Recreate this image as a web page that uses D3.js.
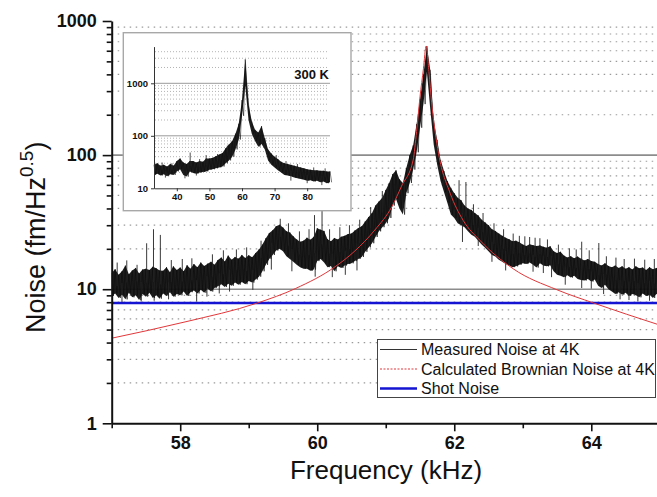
<!DOCTYPE html>
<html>
<head>
<meta charset="utf-8">
<script src="https://cdn.jsdelivr.net/npm/d3@7"></script>
<style>
  body { margin: 0; background: #fff; }
  svg { display: block; font-family: Arial, "Liberation Sans", sans-serif; }
</style>
</head>
<body>
<div id="chart"></div>
<script>
// ---- data ----
// measured noise at 4K: upper / lower edge of the trace, one pair every 0.05 kHz from 57 kHz
const noiseStart = 57;
const noiseStep = 0.05;
const noiseHi = [
  13.2, 14.1, 12.8, 13.6, 15.0, 12.9, 13.8, 14.4, 13.1, 14.0,
  14.2, 13.9, 14.7, 14.3, 13.8, 13.7, 14.6, 13.4, 14.8, 13.9,
  14.5, 13.6, 15.1, 14.2, 15.4, 14.6, 15.8, 14.9, 15.5, 16.0,
  15.2, 16.5, 17.2, 16.1, 17.8, 16.6, 17.4, 16.9, 18.0, 17.1,
  17.9, 17.3, 18.6, 19.8, 21.5, 24.0, 26.2, 27.5, 29.5, 30.2,
  28.8, 27.0, 26.5, 24.8, 23.5, 22.6, 23.0, 24.2, 23.4, 24.6,
  28.5, 27.8, 27.2, 23.6, 22.8, 24.1, 23.5, 24.6, 25.0, 25.8,
  26.0, 27.4, 28.6, 29.5, 32.0, 34.5, 37.0, 42.0, 45.0, 48.0,
  55, 62, 72, 77, 66, 62, 80, 100, 118, 170,
  260, 400, 651, 430, 180, 130, 92, 76, 64, 57,
  52, 48, 46, 42, 40, 39, 37, 35.5, 33, 31.5,
  30, 28, 27.2, 26, 25, 24.2, 23.6, 22.8, 23.0, 22.4,
  21.5, 21.0, 21.6, 21.3, 21.0, 21.2, 20.7, 20.4, 20.9, 19.2,
  18.6, 19.0, 17.8, 17.2, 17.6, 17.0, 17.5, 16.9, 16.4, 16.8,
  16.2, 16.0, 15.4, 15.0, 15.6, 14.9, 14.6, 15.0, 14.4, 14.8,
  14.2, 14.6, 14.0, 14.8, 14.3, 14.5, 13.9, 14.6, 14.1, 14.4,
  14.0
];
const noiseLo = [
  8.9, 9.3, 8.6, 9.1, 8.4, 9.4, 8.7, 9.0, 8.3, 9.2,
  8.8, 9.4, 8.6, 9.0, 8.5, 9.3, 8.9, 9.5, 8.8, 9.2,
  9.0, 9.6, 8.9, 9.5, 9.8, 9.3, 9.9, 9.4, 10.1, 9.6,
  10.2, 10.5, 10.9, 10.4, 11.0, 10.6, 11.2, 10.8, 11.3, 10.9,
  11.5, 11.2, 11.8, 12.4, 13.6, 15.2, 16.8, 18.0, 19.4, 20.0,
  19.2, 17.6, 16.8, 16.0, 15.2, 14.6, 14.2, 14.2, 13.7, 14.0,
  16.2, 16.8, 15.8, 14.6, 14.9, 13.6, 14.8, 14.4, 15.0, 15.4,
  15.6, 16.2, 16.8, 17.4, 19.0, 20.5, 22.0, 24.5, 27.0, 29.0,
  31, 34, 42, 47, 40, 36, 52, 62, 78, 105,
  160, 240, 420, 220, 120, 85, 64, 53, 44, 36,
  34, 31, 30, 29, 27, 25.5, 24.6, 23, 21.5, 20.4,
  19.2, 18, 17.5, 16.6, 16, 15.4, 15, 14.6, 14.8, 15.2,
  15.6, 15.4, 15.8, 15.2, 14.5, 15.6, 15.0, 14.8, 15.1, 13.6,
  12.8, 12.6, 12.3, 12.7, 12.2, 12.6, 11.9, 11.7, 11.6, 11.9,
  11.4, 11.8, 10.6, 10.2, 10.8, 10.0, 9.6, 9.2, 9.5, 9.1,
  9.4, 8.9, 9.2, 9.0, 8.7, 9.3, 8.9, 9.1, 8.6, 9.2,
  9.0
];
// isolated spikes and hairs sticking out of the 4K trace
const spikeUpFreq = [57.51, 57.61, 57.71, 59.96, 60.07, 62.07, 62.17, 62.95, 63.10, 63.25, 63.86, 64.11,
  57.08, 57.22, 57.37, 57.87, 58.03, 58.17, 58.47, 58.63, 58.82, 58.97, 59.18, 59.46, 59.58, 59.74,
  59.88, 60.18, 60.33, 60.47, 60.62, 60.78, 60.95, 62.28, 62.42, 62.58, 62.72, 62.86, 63.03, 63.18,
  63.36, 63.52, 63.68, 63.78, 63.97, 64.22, 64.36, 64.48, 64.63, 64.78, 64.92];
const spikeUpVal = [22, 28, 25.4, 35.7, 40, 65, 63, 25, 24.5, 24, 22.6, 22.1,
  15.8, 16.4, 15.2, 16.5, 16.8, 17.0, 18.2, 19.5, 19.8, 20.5, 23, 33.5, 31, 27,
  28, 28, 29, 30, 33, 41, 54, 43, 37, 31, 28, 26, 24.8, 24.2,
  23.5, 21.5, 20.2, 19.8, 19.5, 17.6, 17.2, 16.8, 16.9, 16.6, 16.8];
const spikeDownFreq = [57.62, 58.24, 58.39, 59.06, 59.97, 62.12, 63.86,
  57.15, 57.43, 57.83, 58.57, 58.72, 59.33, 59.63, 60.22, 60.41, 60.58, 62.35, 62.55, 62.75,
  63.15, 63.30, 63.42, 63.62, 64.00, 64.18, 64.42, 64.55, 64.68, 64.85];
const spikeDownVal = [8.2, 8.1, 8.8, 9.9, 12.4, 22.5, 10.2,
  8.0, 8.1, 8.4, 9.3, 9.6, 14, 13.6, 12.3, 12.8, 13.8, 21, 16, 13.8,
  13.5, 13.2, 12.3, 10.8, 10.1, 9.2, 8.4, 8.3, 8.1, 8.2];

// calculated Brownian noise at 4K
const brownFreq = [57.0, 58.07, 59.13, 59.68, 60.26, 60.55, 60.84, 61.09, 61.23, 61.40, 61.45, 61.50,
  61.55, 61.59, 61.63, 61.67, 61.72, 61.77, 61.94, 62.13, 62.38, 62.86, 63.5, 64.03, 65.0];
const brownVal = [4.31, 5.7, 7.9, 10.1, 14.7, 19.3, 27.6, 41.3, 58.6, 92, 150, 272,
  440, 651, 420, 245, 150, 103, 52, 32.6, 23, 14.2, 9.9, 7.9, 5.4];

// shot noise level
const shotNoise = 7.9;

// inset, 300 K: upper / lower edge of the trace, one pair every 1 kHz from 33 kHz
const insetStart = 33;
const insetStep = 1;
const insetHi = [28, 30, 27, 28, 26, 29, 27, 33, 37, 31,
  29, 33, 33, 31, 33, 32, 37, 37, 38, 41,
  44, 47, 58, 68, 80, 110, 170, 480, 2860, 400,
  190, 130, 115, 153, 90, 55, 46, 40, 36, 32,
  30, 29, 28, 27, 26, 25, 24, 23, 22.5, 22,
  22, 21.5, 21.5, 21, 21];
const insetLo = [18, 19, 17.5, 18.5, 17, 18.5, 18, 21, 23, 18,
  16.7, 21, 19.5, 19, 20, 20.5, 21, 22.5, 23, 24,
  25, 26, 30, 34, 40, 55, 85, 240, 900, 200,
  110, 80, 62, 70, 55, 34, 28, 25, 22, 20,
  18, 17.5, 17, 16, 15.5, 15, 14.5, 14, 14.2, 13.5,
  14, 13, 13.5, 12.5, 13];
const insetSpikeUpFreq = [44.1, 49, 35.5, 38.5, 47, 52.5, 55.5, 70.5, 73.5, 77, 82, 85.5];
const insetSpikeUpVal = [48, 43, 31, 30, 36, 45, 65, 43, 33, 29, 25, 24];
const insetSpikeDownFreq = [36.5, 42.5, 46, 75, 80, 84.5];
const insetSpikeDownVal = [16, 15.5, 17.5, 14, 12.5, 11.5];

const xTicks = [58, 60, 62, 64];
const xMinorTicks = [57, 59, 61, 63, 65];
const yTicks = [1, 10, 100, 1000];
const insetXTicks = [40, 50, 60, 70, 80];
const insetYTicks = [10, 100, 1000];
const legendLabels = ["Measured Noise at 4K", "Calculated Brownian Noise at 4K", "Shot Noise"];

// ---- drawing ----
const width = 657, height = 497;
const plot = { left: 111.7, right: 659.8, top: 21, bottom: 423.3 };

const svg = d3.select("#chart").append("svg")
  .attr("width", width)
  .attr("height", height);

svg.append("defs").append("clipPath").attr("id", "plotClip")
  .append("rect")
    .attr("x", plot.left).attr("y", 0)
    .attr("width", width - plot.left).attr("height", plot.bottom);

const x = d3.scaleLinear().domain([57, 65]).range([plot.left, plot.right]);
const y = d3.scaleLog().domain([1, 1000]).range([plot.bottom, plot.top]);

// minor values for log grids
const decadeMinors = (lo, hi) => {
  const out = [];
  for (let d = lo; d < hi; d *= 10) for (let k = 2; k <= 9; k++) out.push(d * k);
  return out;
};

// grid
const grid = svg.append("g");
grid.selectAll(".minor")
  .data(decadeMinors(1, 1000))
  .join("line")
    .attr("x1", plot.left).attr("x2", width)
    .attr("y1", d => y(d)).attr("y2", d => y(d))
    .attr("stroke", "#9a9a9a")
    .attr("stroke-width", 1.2)
    .attr("stroke-dasharray", "1.5,4.5");
grid.selectAll(".major")
  .data([10, 100])
  .join("line")
    .attr("x1", plot.left).attr("x2", width)
    .attr("y1", d => y(d)).attr("y2", d => y(d))
    .attr("stroke", "#8c8c8c")
    .attr("stroke-width", 1.6);

const chart = svg.append("g").attr("clip-path", "url(#plotClip)");

// a dense noisy trace: filled band between the edges + zigzag through them + spikes
const drawTrace = (g, start, step, hi, lo, upF, upV, downF, downV, xs, ys, sw) => {
  const fOf = i => start + i * step;
  g.append("path")
    .datum(hi.map((h, i) => [fOf(i), h, lo[i]]))
    .attr("d", d3.area().x(d => xs(d[0])).y0(d => ys(d[2])).y1(d => ys(d[1])))
    .attr("fill", "#111")
    .attr("fill-opacity", 0.95);
  const pts = [];
  hi.forEach((h, i) => {
    pts.push([xs(fOf(i)), ys(h)]);
    pts.push([xs(fOf(i) + step / 2), ys(lo[i])]);
  });
  g.append("path")
    .attr("d", d3.line()(pts))
    .attr("fill", "none")
    .attr("stroke", "#0d0d0d")
    .attr("stroke-width", sw * 0.7);
  const mid = f => {
    const i = Math.max(0, Math.min(hi.length - 1, Math.round((f - start) / step)));
    return Math.sqrt(hi[i] * lo[i]);
  };
  const spikes = upF.map((f, i) => [f, upV[i]]).concat(downF.map((f, i) => [f, downV[i]]));
  g.selectAll(null)
    .data(spikes)
    .join("line")
      .attr("x1", d => xs(d[0])).attr("x2", d => xs(d[0]))
      .attr("y1", d => ys(mid(d[0]))).attr("y2", d => ys(d[1]))
      .attr("stroke", "#222")
      .attr("stroke-width", sw);
};

// shot noise
chart.append("line")
  .attr("x1", plot.left).attr("x2", width)
  .attr("y1", y(shotNoise)).attr("y2", y(shotNoise))
  .attr("stroke", "#1414d2")
  .attr("stroke-width", 2.6);

// measured noise
drawTrace(chart.append("g"), noiseStart, noiseStep, noiseHi, noiseLo,
  spikeUpFreq, spikeUpVal, spikeDownFreq, spikeDownVal, x, y, 0.9);

// brownian
chart.append("path")
  .datum(brownFreq.map((f, i) => [f, brownVal[i]]))
  .attr("d", d3.line().x(d => x(d[0])).y(d => y(d[1])).curve(d3.curveMonotoneX))
  .attr("fill", "none")
  .attr("stroke", "#e0373a")
  .attr("stroke-width", 1);

// axes
const yAxisG = svg.append("g")
  .attr("transform", `translate(${plot.left},0)`)
  .call(d3.axisLeft(y).tickValues(yTicks).tickSize(9).tickSizeOuter(0).tickPadding(6)
    .tickFormat(d3.format("d")));
svg.append("g")
  .attr("transform", `translate(${plot.left},0)`)
  .call(d3.axisLeft(y).tickValues(decadeMinors(1, 1000)).tickSize(5).tickSizeOuter(0).tickFormat(""))
  .call(g => g.select(".domain").remove());

const xAxisG = svg.append("g")
  .attr("transform", `translate(0,${plot.bottom})`)
  .call(d3.axisBottom(x).tickValues(xTicks).tickSize(8).tickSizeOuter(0).tickPadding(5)
    .tickFormat(d3.format("d")));
svg.append("g")
  .attr("transform", `translate(0,${plot.bottom})`)
  .call(d3.axisBottom(x).tickValues(xMinorTicks).tickSize(5).tickSizeOuter(0).tickFormat(""))
  .call(g => g.select(".domain").remove());

svg.selectAll(".domain").attr("stroke", "#111").attr("stroke-width", 2);
svg.selectAll(".tick line").attr("stroke", "#111").attr("stroke-width", 1.6);
[yAxisG, xAxisG].forEach(g => g.selectAll(".tick text")
  .attr("font-family", "Arial, 'Liberation Sans', sans-serif")
  .attr("font-size", 18)
  .attr("font-weight", "bold")
  .attr("fill", "#111"));

// axis titles
svg.append("text")
  .attr("x", 386).attr("y", 479)
  .attr("text-anchor", "middle")
  .attr("font-size", 26)
  .attr("fill", "#111")
  .text("Frequency (kHz)");

const yTitle = svg.append("text")
  .attr("transform", "translate(45,333) rotate(-90)")
  .attr("text-anchor", "start")
  .attr("font-size", 27)
  .attr("fill", "#111");
yTitle.append("tspan").text("Noise (fm/Hz");
yTitle.append("tspan").attr("font-size", 19).attr("dy", -12).text("0.5");
yTitle.append("tspan").attr("dy", 12).text(")");

// ---- inset ----
const inset = svg.append("g");
inset.append("rect")
  .attr("x", 123.3).attr("y", 32.7)
  .attr("width", 227.7).attr("height", 178)
  .attr("fill", "#fff")
  .attr("stroke", "#a8a8a8")
  .attr("stroke-width", 1.4);

const ix = d3.scaleLinear().domain([33, 87]).range([154, 330]);
const iy = d3.scaleLog().domain([10, 5000]).range([188.3, 46.6]);

inset.selectAll(".iminor")
  .data(decadeMinors(10, 10000).filter(d => d <= 4000))
  .join("line")
    .attr("x1", 155).attr("x2", 329)
    .attr("y1", d => iy(d)).attr("y2", d => iy(d))
    .attr("stroke", "#a0a0a0")
    .attr("stroke-width", 0.8)
    .attr("stroke-dasharray", "1,2");
inset.selectAll(".imajor")
  .data([100, 1000])
  .join("line")
    .attr("x1", 154).attr("x2", 330)
    .attr("y1", d => iy(d)).attr("y2", d => iy(d))
    .attr("stroke", "#9a9a9a")
    .attr("stroke-width", 1);

drawTrace(inset.append("g"), insetStart, insetStep, insetHi, insetLo,
  insetSpikeUpFreq, insetSpikeUpVal, insetSpikeDownFreq, insetSpikeDownVal, ix, iy, 0.8);

const iyAxis = inset.append("g")
  .attr("transform", "translate(154,0)")
  .call(d3.axisLeft(iy).tickValues(insetYTicks).tickSize(3).tickSizeOuter(0).tickPadding(3)
    .tickFormat(d3.format("d")));
const ixAxis = inset.append("g")
  .attr("transform", "translate(0,188.3)")
  .call(d3.axisBottom(ix).tickValues(insetXTicks).tickSize(3).tickSizeOuter(0).tickPadding(2)
    .tickFormat(d3.format("d")));
[iyAxis, ixAxis].forEach(g => {
  g.select(".domain").attr("stroke", "#333").attr("stroke-width", 1);
  g.selectAll(".tick line").attr("stroke", "#333").attr("stroke-width", 1);
  g.selectAll(".tick text")
    .attr("font-family", "Arial, 'Liberation Sans', sans-serif")
    .attr("font-size", 9.5)
    .attr("font-weight", "bold")
    .attr("fill", "#111");
});

inset.append("text")
  .attr("x", 329).attr("y", 79.3)
  .attr("text-anchor", "end")
  .attr("font-size", 13)
  .attr("font-weight", "bold")
  .attr("fill", "#111")
  .text("300 K");

// ---- legend ----
const legend = svg.append("g");
legend.append("rect")
  .attr("x", 377.5).attr("y", 339.5)
  .attr("width", 278).attr("height", 58)
  .attr("fill", "#fff")
  .attr("stroke", "#444")
  .attr("stroke-width", 1);

const legendStyles = [
  { stroke: "#333", width: 1, dash: null },
  { stroke: "#e0373a", width: 1, dash: "2,1.5" },
  { stroke: "#1414d2", width: 2.6, dash: null }
];
const rowY = [349.5, 369, 388.5];

legend.selectAll(".legend-item")
  .data(legendLabels)
  .join(enter => {
    const g = enter.append("g").attr("class", "legend-item")
      .attr("transform", (d, i) => `translate(0,${rowY[i]})`);
    g.append("line")
      .attr("x1", 380).attr("x2", 417)
      .attr("stroke", (d, i) => legendStyles[i].stroke)
      .attr("stroke-width", (d, i) => legendStyles[i].width)
      .attr("stroke-dasharray", (d, i) => legendStyles[i].dash);
    g.append("text")
      .attr("x", 421).attr("dy", "0.36em")
      .attr("font-size", 16)
      .attr("fill", "#111")
      .text(d => d);
    return g;
  });
</script>
</body>
</html>
